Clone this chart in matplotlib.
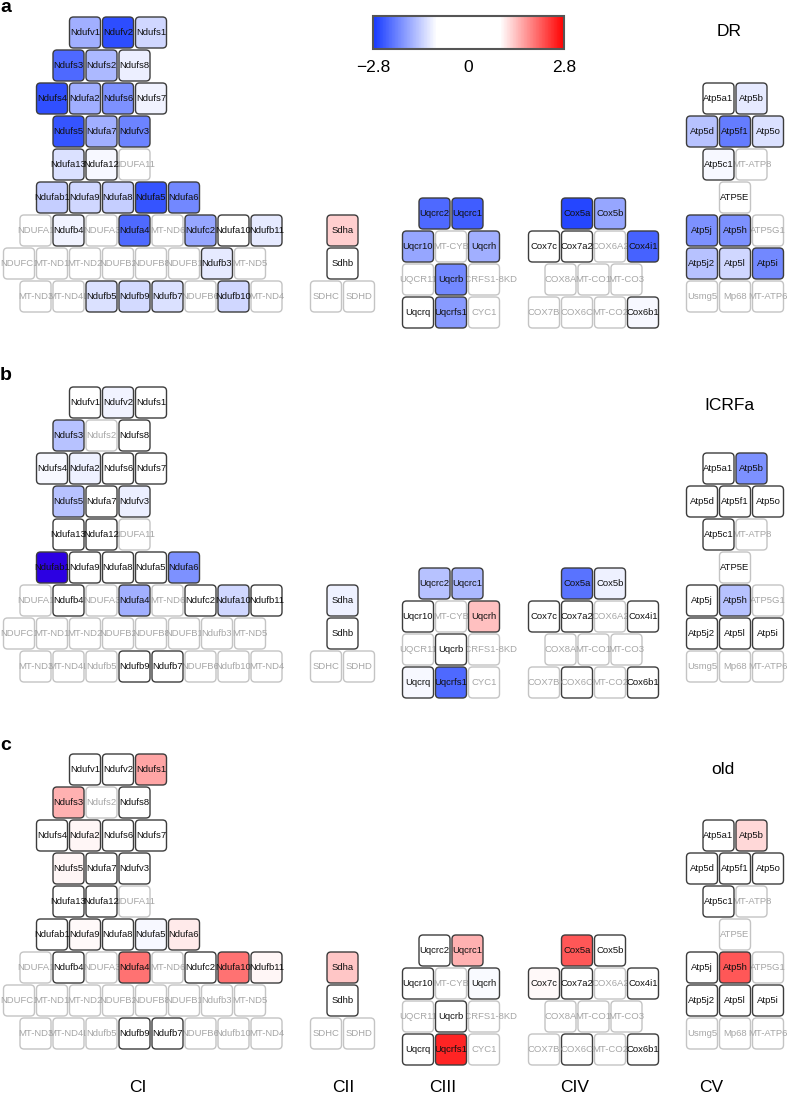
import numpy as np
import matplotlib
matplotlib.use('Agg')
import matplotlib.pyplot as plt
from matplotlib.patches import FancyBboxPatch
from matplotlib.colors import LinearSegmentedColormap, Normalize
from matplotlib.cm import ScalarMappable

plt.rcParams['font.family'] = ['Liberation Sans', 'DejaVu Sans']

NA = np.nan

# ---------------- genes and grid layout (half-column index k, row r) ----------------
CI_genes = ['Ndufv1', 'Ndufv2', 'Ndufs1',
            'Ndufs3', 'Ndufs2', 'Ndufs8',
            'Ndufs4', 'Ndufa2', 'Ndufs6', 'Ndufs7',
            'Ndufs5', 'Ndufa7', 'Ndufv3',
            'Ndufa13', 'Ndufa12', 'NDUFA11',
            'Ndufab1', 'Ndufa9', 'Ndufa8', 'Ndufa5', 'Ndufa6',
            'NDUFA1', 'Ndufb4', 'NDUFA3', 'Ndufa4', 'MT-ND6', 'Ndufc2', 'Ndufa10', 'Ndufb11',
            'NDUFC1', 'MT-ND1', 'MT-ND2', 'NDUFB2', 'NDUFB8', 'NDUFB1', 'Ndufb3', 'MT-ND5',
            'MT-ND3', 'MT-ND4L', 'Ndufb5', 'Ndufb9', 'Ndufb7', 'NDUFB6', 'Ndufb10', 'MT-ND4']
CI_k = [4, 6, 8, 3, 5, 7, 2, 4, 6, 8, 3, 5, 7, 3, 5, 7, 2, 4, 6, 8, 10,
        1, 3, 5, 7, 9, 11, 13, 15, 0, 2, 4, 6, 8, 10, 12, 14, 1, 3, 5, 7, 9, 11, 13, 15]
CI_r = [0]*3 + [1]*3 + [2]*4 + [3]*3 + [4]*3 + [5]*5 + [6]*8 + [7]*8 + [8]*8

CII_genes = ['Sdha', 'Sdhb', 'SDHC', 'SDHD']
CII_k = [2, 2, 1, 3]
CII_r = [6, 7, 8, 8]

CIII_genes = ['Uqcrc2', 'Uqcrc1', 'Uqcr10', 'MT-CYB', 'Uqcrh', 'UQCR11', 'Uqcrb',
              'UQCRFS1-8KD', 'Uqcrq', 'Uqcrfs1', 'CYC1']
CIII_k = [2, 4, 1, 3, 5, 1, 3, 5, 1, 3, 5]
CIII_r = [0, 0, 1, 1, 1, 2, 2, 2, 3, 3, 3]

CIV_genes = ['Cox5a', 'Cox5b', 'Cox7c', 'Cox7a2', 'COX6A2', 'Cox4i1', 'COX8A', 'MT-CO1',
             'MT-CO3', 'COX7B', 'COX6C', 'MT-CO2', 'Cox6b1']
CIV_k = [3, 5, 1, 3, 5, 7, 2, 4, 6, 1, 3, 5, 7]
CIV_r = [0, 0, 1, 1, 1, 1, 2, 2, 2, 3, 3, 3, 3]

CV_genes = ['Atp5a1', 'Atp5b', 'Atp5d', 'Atp5f1', 'Atp5o', 'Atp5c1', 'MT-ATP8', 'ATP5E',
            'Atp5j', 'Atp5h', 'ATP5G1', 'Atp5j2', 'Atp5l', 'Atp5i', 'Usmg5', 'Mp68', 'MT-ATP6']
CV_k = [2, 4, 1, 3, 5, 2, 4, 3, 1, 3, 5, 1, 3, 5, 1, 3, 5]
CV_r = [0, 0, 1, 1, 1, 2, 2, 3, 4, 4, 4, 5, 5, 5, 6, 6, 6]

# ---------------- values (log fold change; NaN = not detected) ----------------
DR_CI = [-1.68, -2.60, -1.30,
         -2.33, -1.59, -1.08,
         -2.58, -1.68, -1.96, -1.03,
         -2.52, -1.68, -2.09,
         -1.21, -0.99, NA,
         -1.40, -1.30, -1.40, -2.52, -2.05,
         NA, -1.03, NA, -2.33, NA, -1.77, -0.50, -1.12,
         NA, NA, NA, NA, NA, NA, -1.12, NA,
         NA, NA, -1.21, -1.27, -1.21, NA, -1.30, NA]
DR_CII = [1.27, 0.20, NA, NA]
DR_CIII = [-2.33, -2.43, -1.77, NA, -1.68, NA, -2.05, NA, -0.30, -1.87, NA]
DR_CIV = [-2.65, -1.77, -0.20, 0.05, NA, -2.39, NA, NA, NA, NA, NA, NA, -0.99]
DR_CV = [-0.50, -1.12, -1.49, -2.15, -1.21, -0.99, NA, 0.10, -1.96, -1.96, NA,
         -1.49, -1.30, -2.05, NA, NA, NA]

ICRFa_CI = [-0.30, -1.03, -0.20,
            -1.49, NA, 0.10,
            -0.99, -1.06, 0.05, 0.10,
            -1.49, -0.20, -1.08,
            0.10, 0.05, NA,
            -3.00, 0.10, 0.05, 0.10, -1.96,
            NA, 0.05, NA, -1.68, NA, 0.10, -1.30, 0.05,
            NA, NA, NA, NA, NA, NA, NA, NA,
            NA, NA, NA, 0.10, 0.05, NA, NA, NA]
ICRFa_CII = [-1.06, 0.10, NA, NA]
ICRFa_CIII = [-1.49, -1.59, 0.05, NA, 1.40, NA, 0.10, NA, -0.99, -2.33, NA]
ICRFa_CIV = [-2.24, -1.06, 0.05, 0.10, NA, 0.05, NA, NA, NA, NA, NA, NA, 0.10]
ICRFa_CV = [0.10, -1.96, 0.05, 0.10, 0.05, 0.10, NA, 0.05, 0.10, -1.49, NA,
            0.05, 0.10, 0.05, NA, NA, NA]

old_CI = [0.10, 0.05, 1.59,
          1.49, NA, 0.10,
          0.05, 1.00, 0.10, 0.05,
          1.00, 0.10, 0.05,
          0.10, 0.05, NA,
          0.05, 0.97, 0.10, -0.99, 1.08,
          NA, 0.05, NA, 1.96, NA, 0.10, 1.96, 0.99,
          NA, NA, NA, NA, NA, NA, NA, NA,
          NA, NA, NA, 0.10, 0.05, NA, NA, NA]
old_CII = [1.34, 0.10, NA, NA]
old_CIII = [0.05, 1.49, 0.10, NA, -0.97, NA, 0.05, NA, 0.10, 2.52, NA]
old_CIV = [2.15, 0.05, 0.97, 0.10, NA, 0.05, NA, NA, NA, NA, NA, NA, 0.20]
old_CV = [0.10, 1.21, 0.05, 0.10, 0.05, 0.10, NA, NA, 0.05, 2.15, NA,
          0.10, 0.05, 0.10, NA, NA, NA]

panel_letters = ['a', 'b', 'c']
panel_titles = ['DR', 'ICRFa', 'old']
complex_names = ['CI', 'CII', 'CIII', 'CIV', 'CV']
cbar_ticks = [-2.8, 0, 2.8]
cbar_ticklabels = ['\u22122.8', '0', '2.8']

# edge overrides
light_edge = {0: {'ATP5E'}, 1: {'ATP5E'}, 2: set()}
dark_edge = {0: set(), 1: {'COX6C'}, 2: {'COX6C'}}

# ---------------- styling / layout ----------------
W, H = 788, 1098
fig = plt.figure(figsize=(W / 100, H / 100), dpi=100)
ax = fig.add_axes([0, 0, 1, 1])
ax.set_xlim(0, W)
ax.set_ylim(H, 0)
ax.axis('off')

cmap = LinearSegmentedColormap.from_list('bwwr', ['#1438ff', '#ffffff', '#ffffff', '#ff0000'])
cmap.set_under('#2c00e2')
cmap.set_over('#ff0000')
norm = Normalize(-2.8, 2.8)

BOX = 31.0
STEP = 33.0
HALF = 16.5
origins = {'CI': (19.0, 17.0), 'CII': (309.5, 17.0), 'CIII': (401.5, 198.0),
           'CIV': (527.5, 198.0), 'CV': (685.5, 83.0)}
panel_dy = [0, 370, 737]

layouts = {'CI': (CI_genes, CI_k, CI_r), 'CII': (CII_genes, CII_k, CII_r),
           'CIII': (CIII_genes, CIII_k, CIII_r), 'CIV': (CIV_genes, CIV_k, CIV_r),
           'CV': (CV_genes, CV_k, CV_r)}
values = [
    {'CI': DR_CI, 'CII': DR_CII, 'CIII': DR_CIII, 'CIV': DR_CIV, 'CV': DR_CV},
    {'CI': ICRFa_CI, 'CII': ICRFa_CII, 'CIII': ICRFa_CIII, 'CIV': ICRFa_CIV, 'CV': ICRFa_CV},
    {'CI': old_CI, 'CII': old_CII, 'CIII': old_CIII, 'CIV': old_CIV, 'CV': old_CV},
]

z_na = 2
z_det = 400
for p in range(3):
    dy = panel_dy[p]
    for cname in complex_names:
        genes, ks, rs = layouts[cname]
        vals = values[p][cname]
        x0, y0 = origins[cname]
        for g, k, r, v in zip(genes, ks, rs, vals):
            cx = x0 + HALF * k
            top = y0 + STEP * r + dy
            detected = not np.isnan(v)
            face = cmap(norm(v)) if detected else 'white'
            edge = '#3c3c3c' if detected else '#c4c4c4'
            if g in light_edge[p]:
                edge = '#c4c4c4'
            if g in dark_edge[p]:
                edge = '#3c3c3c'
            tcol = '#111111' if detected else '#a6a6a6'
            if detected:
                z = z_det
                z_det += 2
            else:
                z = z_na
                z_na += 2
            patch = FancyBboxPatch((cx - BOX / 2, top), BOX, BOX,
                                   boxstyle='round,pad=0,rounding_size=4',
                                   facecolor=face, edgecolor=edge, linewidth=1.0,
                                   zorder=z)
            ax.add_patch(patch)
            ax.text(cx, top + BOX / 2, g, ha='center', va='center', fontsize=6.8,
                    color=tcol, zorder=z + 1)
    ax.text(0, 8 + dy - (3 if p == 1 else 0), panel_letters[p], fontsize=14,
            fontweight='bold', ha='left', va='center')

ax.text(729, 31, panel_titles[0], fontsize=12.5, ha='center', va='center')
ax.text(729, 405, panel_titles[1], fontsize=12.5, ha='center', va='center')
ax.text(723, 769, panel_titles[2], fontsize=12.5, ha='center', va='center')

label_x = [138, 343, 443, 575, 711]
for name, lx in zip(complex_names, label_x):
    ax.text(lx, 1088, name, fontsize=12.5, ha='center', va='center')

# colorbar
cax = fig.add_axes([373 / W, 1 - 49 / H, (564 - 373) / W, 33 / H])
cb = fig.colorbar(ScalarMappable(norm=norm, cmap=cmap), cax=cax,
                  orientation='horizontal', ticks=cbar_ticks)
cb.set_ticklabels(cbar_ticklabels)
cax.tick_params(length=0, labelsize=12.5, pad=8)
cb.outline.set_edgecolor('#555555')
cb.outline.set_linewidth(1.5)

fig.savefig('out.png', dpi=100)
